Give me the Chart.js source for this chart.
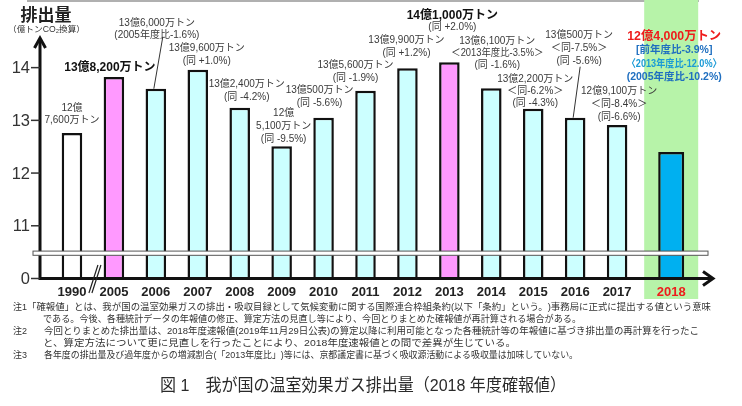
<!DOCTYPE html>
<html lang="ja">
<head>
<meta charset="utf-8">
<script src="https://cdn.jsdelivr.net/npm/chart.js@4"></script>
<style>
  html, body { margin: 0; padding: 0; background: #fff; }
  #wrap { width: 742px; height: 406px; position: relative; }
</style>
</head>
<body>
<div id="wrap"><canvas id="emissionChart"></canvas></div>
<script>
// data
const years = ['1990', '2005', '2006', '2007', '2008', '2009', '2010', '2011', '2012', '2013', '2014', '2015', '2016', '2017', '2018'];
const emissions = [12.76, 13.82, 13.60, 13.96, 13.24, 12.51, 13.05, 13.56, 13.99, 14.10, 13.61, 13.22, 13.05, 12.91, 12.40];
const baseYears = ['2005', '2013'];
const yTickValues = [10, 11, 12, 13, 14];   // 10 sits on the broken axis and reads "0"
const amountLabels = [
  ['12億', '7,600万トン'],
  ['13億8,200万トン'],
  ['13億6,000万トン', '(2005年度比-1.6%)'],
  ['13億9,600万トン', '(同 +1.0%)'],
  ['13億2,400万トン', '(同 -4.2%)'],
  ['12億', '5,100万トン', '(同 -9.5%)'],
  ['13億500万トン', '(同 -5.6%)'],
  ['13億5,600万トン', '(同 -1.9%)'],
  ['13億9,900万トン', '(同 +1.2%)'],
  ['14億1,000万トン', '(同 +2.0%)'],
  ['13億6,100万トン', '＜2013年度比-3.5%＞', '(同 -1.6%)'],
  ['13億2,200万トン', '＜同-6.2%＞', '(同 -4.3%)'],
  ['13億500万トン', '＜同-7.5%＞', '(同 -5.6%)'],
  ['12億9,100万トン', '＜同-8.4%＞', '(同-6.6%)'],
  ['12億4,000万トン', '[前年度比-3.9%]', '〈2013年度比-12.0%〉', '(2005年度比-10.2%)'],
];
const notes = [
  ['注1', '「確報値」とは、我が国の温室効果ガスの排出・吸収目録として気候変動に関する国際連合枠組条約(以下「条約」という。)事務局に正式に提出する値という意味'],
  ['', 'である。今後、各種統計データの年報値の修正、算定方法の見直し等により、今回とりまとめた確報値が再計算される場合がある。'],
  ['注2', '今回とりまとめた排出量は、2018年度速報値(2019年11月29日公表)の算定以降に利用可能となった各種統計等の年報値に基づき排出量の再計算を行ったこ'],
  ['', 'と、算定方法について更に見直しを行ったことにより、2018年度速報値との間で差異が生じている。'],
  ['注3', '各年度の排出量及び過年度からの増減割合(「2013年度比」)等には、京都議定書に基づく吸収源活動による吸収量は加味していない。'],
];
const chartTitle = '図 1　我が国の温室効果ガス排出量（2018 年度確報値）';

// layout of the labels above each bar: [dx, dy from bar top, line height]
const labelPlace = [
  [0, -25, 12], [-4, -9, 12], [1, -65, 11.5], [9, -21, 13], [7, -23, 13],
  [2, -33, 13], [-4, -27, 13], [-10, -26, 13], [-1, -28, 13], [3, -47, 12],
  [6, -47, 12], [2, -30, 12], [4, -82, 13], [2, -34, 13], [3, -115, 13.5],
];
const leaders = { 2: [7, -52], 12: [5, -51] };
const noteRows = [[27, 307, 684], [43, 319, 538], [44, 331, 655], [43, 343, 473], [44, 355, 534]];

const MIX = '"Liberation Sans", Arial, "Noto Sans CJK JP", sans-serif';
const JP = '"Noto Sans CJK JP", "Liberation Sans", sans-serif';
const last = years.length - 1;
const pink = '#ff99ff', cyan = '#ccffff', latestBlue = '#00b0f0', green = '#b7f3a9';

const pastColors = years.map(y => y === '1990' ? '#ffffff' : baseYears.includes(y) ? pink : cyan);

function fitText(ctx, text, x, y, width) {
  const w = ctx.measureText(text).width;
  ctx.save();
  ctx.translate(x, y);
  ctx.scale(width / w, 1);
  ctx.textAlign = 'left';
  ctx.fillText(text, 0, 0);
  ctx.restore();
}

function barAt(chart, i) {
  return i === last ? chart.getDatasetMeta(1).data[i] : chart.getDatasetMeta(0).data[i];
}

const decorations = {
  id: 'decorations',
  afterDatasetsUpdate(chart) {
    // the current year stands a little apart from the others
    const step = chart.scales.x.width / years.length;
    chart.getDatasetMeta(1).data[last].x += 0.29 * step;
  },
  beforeDatasetsDraw(chart) {
    const ctx = chart.ctx;
    const b = barAt(chart, last);
    ctx.save();
    ctx.fillStyle = '#b0b0b0';
    ctx.fillRect(27, 0, 672, 2);
    ctx.fillStyle = green;
    ctx.fillRect(b.x - 27, 0, 54, 299);
    ctx.restore();
  },
  afterDatasetsDraw(chart) {
    const ctx = chart.ctx;
    const y = chart.scales.y;
    const area = chart.chartArea;
    const axisX = 40, axisY = area.bottom;
    ctx.save();

    // axes with arrows
    ctx.strokeStyle = '#111';
    ctx.lineWidth = 3;
    ctx.lineCap = 'butt';
    ctx.beginPath();
    ctx.moveTo(axisX, axisY + 1.5); ctx.lineTo(axisX, 40);
    ctx.moveTo(axisX - 1.5, axisY); ctx.lineTo(711, axisY);
    ctx.stroke();
    ctx.lineJoin = 'miter';
    ctx.beginPath();
    ctx.moveTo(axisX - 5.5, 48); ctx.lineTo(axisX, 38); ctx.lineTo(axisX + 5.5, 48);
    ctx.moveTo(703, axisY - 7); ctx.lineTo(713, axisY); ctx.lineTo(703, axisY + 7);
    ctx.stroke();

    // y ticks
    ctx.lineWidth = 1.5;
    ctx.strokeStyle = '#333';
    ctx.fillStyle = '#333';
    ctx.font = '16.5px ' + MIX;
    ctx.textAlign = 'right';
    ctx.textBaseline = 'middle';
    yTickValues.forEach(v => {
      const py = y.getPixelForValue(v);
      ctx.beginPath(); ctx.moveTo(31, py); ctx.lineTo(axisX, py); ctx.stroke();
      ctx.fillText(v === 10 ? '0' : String(v), 30, py + 1);
    });

    // axis break band
    const bTop = y.getPixelForValue(10.52), bBot = y.getPixelForValue(10.44);
    ctx.fillStyle = '#fff';
    ctx.fillRect(33, bTop, 675, bBot - bTop);
    ctx.strokeStyle = '#555';
    ctx.lineWidth = 1;
    ctx.strokeRect(33, bTop, 675, bBot - bTop);

    // y title
    ctx.fillStyle = '#222';
    ctx.textAlign = 'center';
    ctx.font = 'bold 17px ' + JP;
    ctx.fillText('排出量', 46, 15);
    ctx.font = '8.5px ' + MIX;
    ctx.fillStyle = '#333';
    fitText(ctx, '（億トンCO₂換算）', 8, 30, 77);

    // x labels
    ctx.font = 'bold 13px ' + MIX;
    ctx.textAlign = 'center';
    years.forEach((yr, i) => {
      ctx.fillStyle = i === last ? '#ee1c1c' : '#222';
      ctx.fillText(yr, barAt(chart, i).x, 292);
    });
    // "//" between 1990 and 2005
    const mid = (barAt(chart, 0).x + barAt(chart, 1).x) / 2;
    ctx.strokeStyle = '#222';
    ctx.lineWidth = 1.2;
    ctx.beginPath();
    [0, 3].forEach(o => { ctx.moveTo(mid - 4 + o, 293); ctx.lineTo(mid + 5 + o, 265); });
    ctx.stroke();

    // labels over the bars
    amountLabels.forEach((lines, i) => {
      const bar = barAt(chart, i);
      const [dx, dy, lh] = labelPlace[i];
      lines.forEach((txt, k) => {
        const tx = bar.x + dx, ty = bar.y + dy + k * lh;
        ctx.textAlign = 'center';
        if (i === last) {
          ctx.font = k === 0 ? 'bold 12.5px ' + MIX : 'bold 10.5px ' + MIX;
          ctx.fillStyle = k === 0 ? '#ee1c1c' : k === 2 ? '#1a9ad6' : '#1f6fc0';
          ctx.fillText(txt, tx, ty, k === 0 ? 94 : k === 1 ? 78 : 95);
        } else if (k === 0 && baseYears.includes(years[i])) {
          ctx.font = 'bold 12px ' + MIX;
          ctx.fillStyle = '#111';
          ctx.fillText(txt, tx, ty, 93);
        } else {
          ctx.font = '10px ' + MIX;
          ctx.fillStyle = '#3a3a3a';
          ctx.fillText(txt, tx, ty, 92);
        }
      });
      if (leaders[i]) {
        ctx.strokeStyle = '#333';
        ctx.lineWidth = 1;
        ctx.beginPath();
        ctx.moveTo(bar.x + leaders[i][0], bar.y + leaders[i][1]);
        ctx.lineTo(bar.x - 2, bar.y);
        ctx.stroke();
      }
    });

    // notes
    ctx.fillStyle = '#333';
    ctx.font = '9.5px ' + MIX;
    notes.forEach(([tag, txt], i) => {
      const [nx, ny, nw] = noteRows[i];
      if (tag) fitText(ctx, tag, 13, ny, 14);
      fitText(ctx, txt, nx, ny, nw);
    });

    // figure title
    ctx.fillStyle = '#2a2a2a';
    ctx.font = '17px ' + MIX;
    fitText(ctx, chartTitle, 160, 386, 406);

    ctx.restore();
  }
};

new Chart(document.getElementById('emissionChart'), {
  type: 'bar',
  data: {
    labels: years,
    datasets: [
      {
        label: '排出量',
        data: emissions.map((v, i) => i < last ? v : null),
        backgroundColor: pastColors,
        borderColor: '#111',
        borderWidth: 2.5,
        barPercentage: 0.49,
        categoryPercentage: 1,
        base: 10,
        clip: false,
      },
      {
        label: '2018年度',
        data: emissions.map((v, i) => i === last ? v : null),
        backgroundColor: latestBlue,
        borderColor: '#111',
        borderWidth: 2.5,
        barPercentage: 0.62,
        categoryPercentage: 1,
        base: 10,
        clip: false,
      },
    ],
  },
  options: {
    responsive: true,
    maintainAspectRatio: false,
    animation: false,
    layout: { padding: { left: 51, right: 62, top: 36, bottom: 127.5 } },
    plugins: {
      legend: { display: false },
      tooltip: { enabled: false },
    },
    datasets: { bar: { grouped: false, skipNull: true } },
    scales: {
      x: { display: false },
      y: { display: false, min: 10, max: 14.6 },
    },
  },
  plugins: [decorations],
});
</script>
</body>
</html>
